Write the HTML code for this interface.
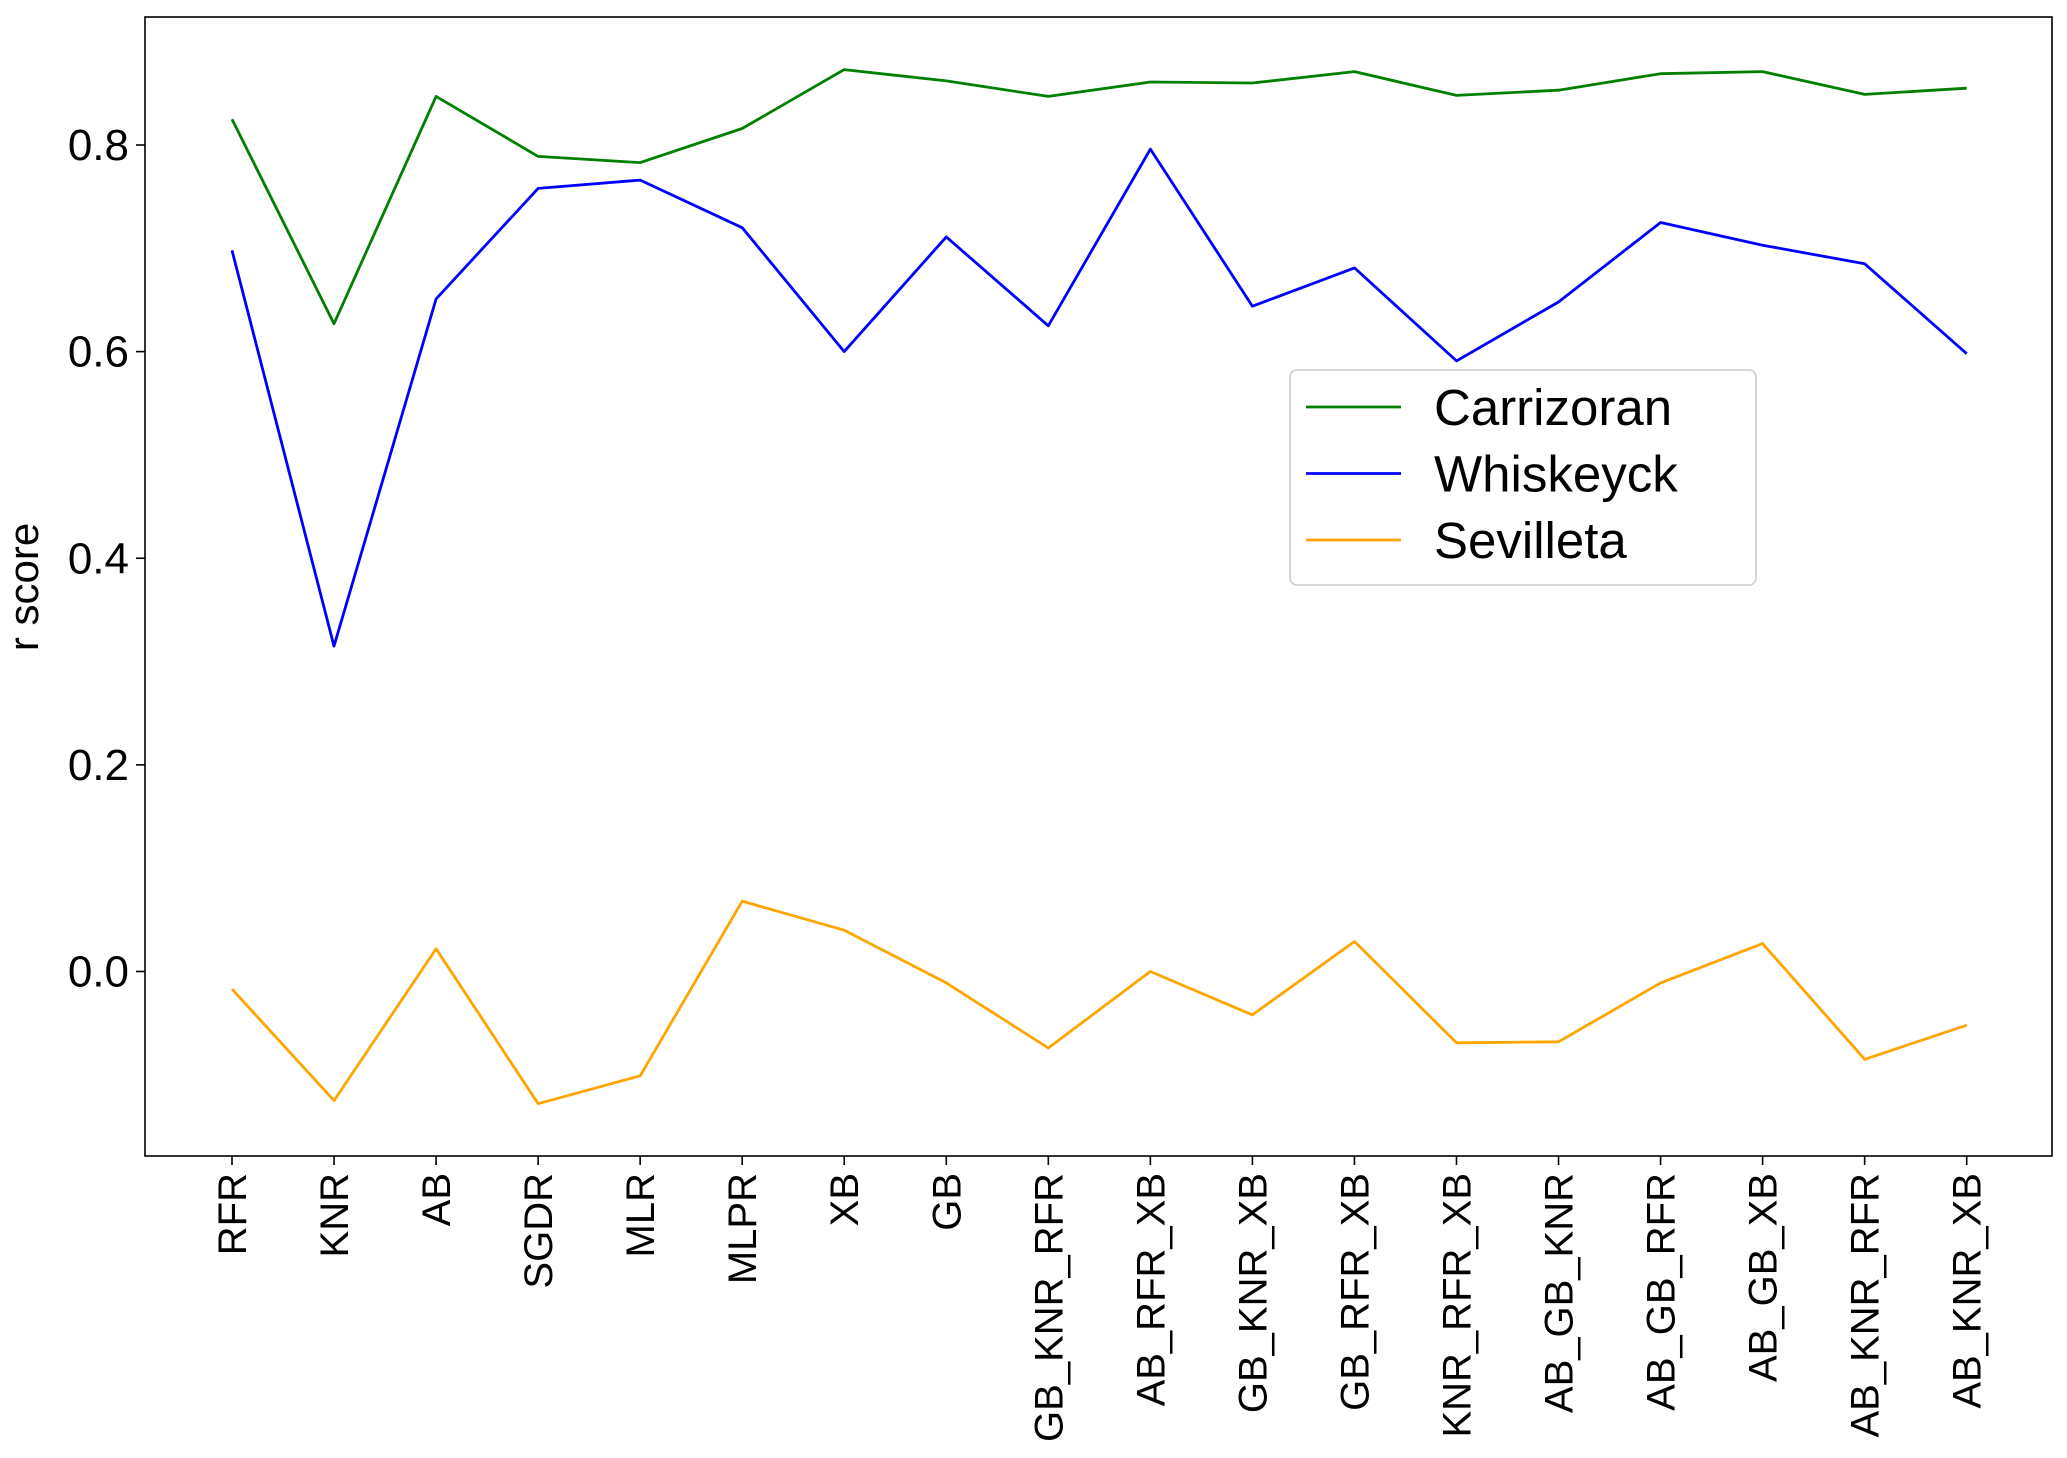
<!DOCTYPE html>
<html><head><meta charset="utf-8"><style>
html,body{margin:0;padding:0;background:#fff;}
svg{display:block;font-family:"Liberation Sans",Arial,sans-serif;}
</style></head><body>
<svg id="chart" width="2067" height="1458" viewBox="0 0 2067 1458" xmlns="http://www.w3.org/2000/svg"></svg>
<script>
const categories=["RFR","KNR","AB","SGDR","MLR","MLPR","XB","GB","GB_KNR_RFR","AB_RFR_XB","GB_KNR_XB","GB_RFR_XB","KNR_RFR_XB","AB_GB_KNR","AB_GB_RFR","AB_GB_XB","AB_KNR_RFR","AB_KNR_XB"];
const carrizoran=[0.825,0.627,0.847,0.789,0.783,0.816,0.873,0.862,0.847,0.861,0.860,0.871,0.848,0.853,0.869,0.871,0.849,0.855];
const whiskeyck=[0.698,0.315,0.651,0.758,0.766,0.720,0.600,0.711,0.625,0.796,0.644,0.681,0.591,0.648,0.725,0.703,0.685,0.598];
const sevilleta=[-0.017,-0.125,0.022,-0.128,-0.101,0.068,0.040,-0.011,-0.074,0.0,-0.042,0.029,-0.069,-0.068,-0.011,0.027,-0.085,-0.052];
const yTicks=[0.0,0.2,0.4,0.6,0.8];
const seriesNames=["Carrizoran","Whiskeyck","Sevilleta"];
const seriesColors=["#007f00","#0000ff","#ffa500"];

const NS="http://www.w3.org/2000/svg";
const svg=document.getElementById('chart');
const L=145,R=2052,T=17,B=1156;
const X0=232,X1=1966.7;
function xs(i){return X0+(X1-X0)*i/(categories.length-1);}
function ys(v){return 971.5-v*(971.5-145)/0.8;}
function mk(tag,attrs,parent){const e=document.createElementNS(NS,tag);for(const k in attrs)e.setAttribute(k,attrs[k]);(parent||svg).appendChild(e);return e;}

const frame=mk('rect',{x:L,y:T,width:R-L,height:B-T,fill:'none',stroke:'#000','stroke-width':1.6});



yTicks.forEach(v=>{
  const y=ys(v);
  const t=mk('line',{x1:L-9,x2:L,y1:y,y2:y,stroke:'#000','stroke-width':1.6});
  
  
  const lb=mk('text',{x:L-16,y:y+15,'text-anchor':'end','font-size':44,fill:'#000'});
  lb.textContent=v.toFixed(1);
  
  
});
categories.forEach((c,i)=>{
  const x=xs(i);
  const t=mk('line',{x1:x,x2:x,y1:B,y2:B+9,stroke:'#000','stroke-width':1.6});
  
  
  const lb=mk('text',{x:0,y:0,'text-anchor':'end','font-size':40,fill:'#000',transform:`translate(${x+14},${B+17}) rotate(-90)`});
  lb.textContent=c;
  
  
});
const yt=mk('text',{x:0,y:0,'text-anchor':'middle','font-size':42,fill:'#000',transform:'translate(38,587) rotate(-90)'});
yt.textContent='r score';



[carrizoran,whiskeyck,sevilleta].forEach((arr,si)=>{
  const pts=arr.map((v,i)=>xs(i).toFixed(1)+','+ys(v).toFixed(1)).join(' ');
  const pl=mk('polyline',{points:pts,fill:'none',stroke:seriesColors[si],'stroke-width':2.8,'stroke-linejoin':'round'});
  
  
});

const lg=mk('g',{});


mk('rect',{x:1290,y:370,width:466,height:215,rx:7,fill:'#fff','fill-opacity':0.8,stroke:'#ccc','stroke-width':1.6},lg);
seriesNames.forEach((n,i)=>{
  const y=407+i*66.5;
  const ln=mk('line',{x1:1306,x2:1401,y1:y,y2:y,stroke:seriesColors[i],'stroke-width':2.8},lg);
  
  
  const tx=mk('text',{x:1434,y:y+18,'font-size':51,fill:'#000'},lg);
  tx.textContent=n;
  
  
});
</script>
</body></html>
